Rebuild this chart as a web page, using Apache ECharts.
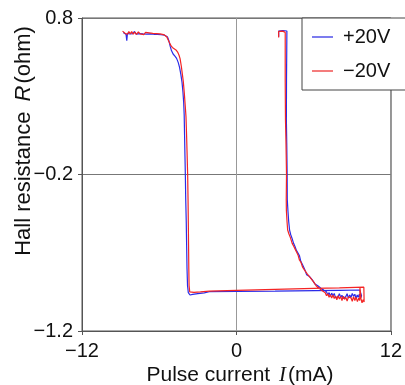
<!DOCTYPE html>
<html>
<head>
<meta charset="utf-8">
<script src="https://cdn.jsdelivr.net/npm/echarts@6/dist/echarts.min.js"></script>
<style>html,body{margin:0;padding:0;background:#fff}#c{width:405px;height:385px}</style>
</head>
<body>
<div id="c"></div>
<script>
// ---- data ----
const seriesNames = ['+20V', '\u221220V'];
const xTicks = [-12, 0, 12];
const yTicks = [-1.2, -0.2, 0.8];

const blueCurrent = [
 -8.80,-8.72,-8.65,-8.58,-8.52,-8.47,-8.38,-8.28,-8.18,-8.05,-7.92,-7.80,-7.66,-7.52,-7.40,-7.26,-7.12,-6.98,-6.84,-6.70,
 -6.56,-6.42,-6.28,-6.14,-6.00,-5.86,-5.72,-5.58,-5.45,-5.35,-5.25,-5.15,-5.05,-4.92,-4.78,-4.65,-4.52,-4.42,-4.32,-4.23,
 -4.16,-4.10,-4.06,-4.03,-4.00,-3.97,-3.94,-3.90,-3.87,-3.84,-3.80,-3.74,-3.61,-3.40,-3.00,-2.50,-2.12,0.00,3.00,6.11,
 8.00,9.58,9.70,9.72,9.65,9.55,9.47,9.38,9.30,9.20,9.10,9.00,8.90,8.80,8.70,8.60,8.50,8.40,8.30,8.20,
 8.10,8.00,7.90,7.80,7.70,7.60,7.50,7.40,7.30,7.20,7.10,7.00,6.90,6.80,6.70,6.58,6.48,6.35,6.25,6.11,
 6.00,5.88,5.78,5.65,5.55,5.45,5.33,5.21,5.10,5.00,4.90,4.77,4.66,4.55,4.44,4.33,4.22,4.13,4.06,4.00,
 3.95,3.94,3.91,3.88,3.89,3.91,3.92,3.60,3.28,3.28
];
const blueResistance = [
 0.708,0.700,0.712,0.696,0.655,0.702,0.712,0.698,0.708,0.700,0.714,0.697,0.709,0.700,0.711,0.698,0.706,0.697,0.707,0.699,
 0.704,0.696,0.702,0.695,0.700,0.693,0.697,0.690,0.688,0.678,0.655,0.620,0.592,0.570,0.556,0.542,0.515,0.485,0.440,0.390,
 0.330,0.260,0.180,0.050,-0.080,-0.200,-0.360,-0.500,-0.650,-0.800,-0.910,-0.955,-0.970,-0.966,-0.961,-0.956,-0.949,-0.947,-0.945,-0.942,
 -0.940,-0.938,-0.940,-0.975,-0.990,-0.965,-0.985,-0.970,-0.995,-0.965,-0.978,-0.960,-0.985,-0.970,-0.990,-0.962,-0.980,-0.968,-0.992,-0.972,
 -0.985,-0.962,-0.980,-0.970,-0.988,-0.960,-0.975,-0.958,-0.978,-0.955,-0.970,-0.950,-0.962,-0.940,-0.950,-0.928,-0.935,-0.912,-0.918,-0.900,
 -0.890,-0.872,-0.878,-0.850,-0.838,-0.840,-0.812,-0.790,-0.770,-0.755,-0.720,-0.700,-0.685,-0.660,-0.640,-0.610,-0.585,-0.555,-0.500,-0.430,
 -0.360,-0.200,0.000,0.150,0.400,0.600,0.717,0.720,0.717,0.680
];

const redCurrent = [
 -8.85,-8.78,-8.70,-8.62,-8.55,-8.46,-8.36,-8.25,-8.14,-8.02,-7.90,-7.76,-7.62,-7.48,-7.35,-7.20,-7.06,-6.92,-6.78,-6.64,
 -6.50,-6.36,-6.22,-6.08,-5.94,-5.80,-5.66,-5.52,-5.42,-5.34,-5.22,-5.10,-4.98,-4.85,-4.70,-4.57,-4.46,-4.38,-4.28,-4.20,
 -4.13,-4.05,-3.98,-3.92,-3.87,-3.83,-3.79,-3.76,-3.74,-3.72,-3.70,-3.68,-3.63,-3.53,-3.30,-2.80,-2.10,0.00,3.00,6.00,
 8.00,9.90,9.92,9.84,9.76,9.68,9.60,9.58,9.50,9.40,9.30,9.20,9.10,9.00,8.90,8.80,8.70,8.60,8.50,8.40,
 8.30,8.20,8.10,8.00,7.90,7.80,7.70,7.60,7.50,7.40,7.30,7.20,7.10,7.00,6.90,6.80,6.70,6.58,6.45,6.35,
 6.20,6.10,5.98,5.85,5.75,5.60,5.50,5.40,5.28,5.13,5.02,4.90,4.80,4.70,4.58,4.46,4.33,4.20,4.08,3.98,
 3.93,3.88,3.87,3.89,3.85,3.81,3.79,3.79,3.79,3.60,3.28,3.28
];
const redResistance = [
 0.716,0.705,0.720,0.700,0.712,0.696,0.714,0.699,0.713,0.697,0.710,0.695,0.712,0.698,0.707,0.694,0.708,0.696,0.705,0.693,
 0.702,0.694,0.700,0.692,0.698,0.690,0.694,0.688,0.680,0.668,0.645,0.625,0.612,0.604,0.596,0.582,0.562,0.540,0.490,0.440,
 0.395,0.320,0.240,0.170,0.040,-0.080,-0.200,-0.360,-0.500,-0.650,-0.800,-0.910,-0.950,-0.957,-0.953,-0.950,-0.945,-0.940,-0.934,-0.928,
 -0.924,-0.920,-1.015,-1.000,-1.020,-0.995,-0.925,-1.005,-0.990,-1.012,-0.985,-1.005,-0.980,-1.010,-0.988,-1.000,-0.982,-1.008,-0.985,-0.998,
 -0.978,-1.005,-0.980,-0.995,-0.975,-1.000,-0.978,-0.992,-0.970,-0.990,-0.968,-0.985,-0.962,-0.975,-0.955,-0.962,-0.945,-0.950,-0.928,-0.935,
 -0.912,-0.905,-0.885,-0.880,-0.860,-0.853,-0.835,-0.838,-0.810,-0.790,-0.762,-0.748,-0.718,-0.700,-0.680,-0.660,-0.640,-0.605,-0.580,-0.555,
 -0.500,-0.430,-0.363,-0.200,0.000,0.150,0.400,0.600,0.708,0.716,0.714,0.675
];

// ---- build ----
const zip = (xs, ys) => xs.map((x, i) => [x, ys[i]]);
const minus = s => String(s).replace('-', '\u2212');
const FONT = 'Liberation Sans';

const chart = echarts.init(document.getElementById('c'), null, {renderer: 'canvas'});
chart.setOption({
  animation: false,
  backgroundColor: '#fff',
  grid: {left: 82, right: 12, top: 18, bottom: 54, show: true, borderColor: '#555', borderWidth: 1},
  xAxis: {
    type: 'value', min: xTicks[0], max: xTicks[xTicks.length - 1], interval: xTicks[1] - xTicks[0],
    axisLine: {show: true, onZero: false, lineStyle: {color: '#555', width: 1}},
    axisTick: {show: true, length: 4, lineStyle: {color: '#555'}},
    splitLine: {show: true, lineStyle: {color: '#999', width: 1}},
    axisLabel: {margin: 10, fontSize: 20, fontFamily: FONT, color: '#111', formatter: v => minus(Math.round(v))}
  },
  yAxis: {
    type: 'value', min: yTicks[0], max: yTicks[yTicks.length - 1], interval: 1,
    axisLine: {show: true, onZero: false, lineStyle: {color: '#555', width: 1}},
    axisTick: {show: true, length: 4, lineStyle: {color: '#555'}},
    splitLine: {show: true, lineStyle: {color: '#777', width: 1}},
    axisLabel: {margin: 9, fontSize: 20, fontFamily: FONT, color: '#111', formatter: v => minus((Math.round(v * 10) / 10).toFixed(1))}
  },
  legend: {
    left: 302, top: 18, orient: 'vertical',
    padding: [9, 30, 9, 10], itemGap: 14, itemWidth: 21, itemHeight: 1.5, icon: 'rect',
    borderColor: '#444', borderWidth: 1, backgroundColor: '#fff',
    textStyle: {fontSize: 20, fontFamily: FONT, color: '#111', lineHeight: 20, padding: [0, 0, 0, 5]},
    data: seriesNames
  },
  series: [
    {name: seriesNames[0], type: 'line', symbol: 'none', data: zip(blueCurrent, blueResistance),
     lineStyle: {color: '#2b2be8', width: 1.2}, itemStyle: {color: '#5050e8'}},
    {name: seriesNames[1], type: 'line', symbol: 'none', data: zip(redCurrent, redResistance),
     lineStyle: {color: '#f42424', width: 1.2}, itemStyle: {color: '#f05050'}}
  ],
  graphic: [
    {type: 'text', x: 240, y: 375, style: {
      text: 'Pulse current {i|I}(mA)', fontSize: 21, fontFamily: FONT, fill: '#111',
      align: 'center', verticalAlign: 'middle',
      rich: {i: {fontSize: 21, fontFamily: 'Liberation Serif', fontStyle: 'italic', fill: '#111', padding: [0, 2, 0, 3]}}
    }},
    {type: 'text', x: 24, y: 141, rotation: Math.PI / 2, style: {
      text: 'Hall resistance {r|R}(ohm)', fontSize: 22, fontFamily: FONT, fill: '#111',
      align: 'center', verticalAlign: 'middle',
      rich: {r: {fontSize: 22, fontFamily: FONT, fontStyle: 'italic', fill: '#111', padding: [0, 2, 0, 4]}}
    }}
  ]
});
</script>
</body>
</html>
